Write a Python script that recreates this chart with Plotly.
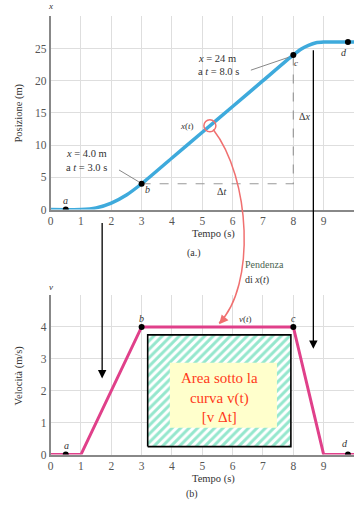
import plotly.graph_objects as go

# ---------------- data ----------------
t_pos = [0, 1, 1.5, 2, 2.5, 3, 4, 5, 6, 7, 8, 8.25, 8.5, 8.75, 9, 10]
x_pos = [0, 0, 0.25, 1, 2.25, 4, 8, 12, 16, 20, 24, 24.9, 25.5, 25.9, 26, 26]

t_vel = [0, 1, 3, 8, 9, 10]
v_vel = [0, 0, 4, 4, 0, 0]

pt_labels = ["a", "b", "c", "d"]
pt_t = [0.5, 3, 8, 9.8]
pt_x = [0, 4, 24, 26]
pt_v = [0, 4, 4, 0]

slope_t = [5.25]
slope_x = [13]

x_ticks = list(range(11))
x_ticktext = [str(i) for i in range(10)] + [""]
pos_ticks = [0, 5, 10, 15, 20, 25, 30]
pos_ticktext = ["0", "5", "10", "15", "20", "25", ""]
vel_ticks = [0, 1, 2, 3, 4, 5]
vel_ticktext = ["0", "1", "2", "3", "4", ""]

area_t = [3.2, 7.92]
area_v = [0.25, 3.75]
box_t = [3.93, 7.46]
box_v = [0.84, 2.88]

W, H = 354, 510
SERIF = "Liberation Serif"
GRID = "#dedede"
AX = "#888888"


def px(x):
    return x / W


def py(y):
    return 1 - y / H


fig = go.Figure()

# position curve
fig.add_trace(go.Scatter(x=t_pos, y=x_pos, mode="lines",
                         line=dict(color="#3eaadc", width=3.5, shape="spline", smoothing=0.7),
                         xaxis="x", yaxis="y", hoverinfo="skip"))
# dashed helper lines
fig.add_trace(go.Scatter(x=[pt_t[1], pt_t[2], pt_t[2]], y=[pt_x[1], pt_x[1], pt_x[2]],
                         mode="lines", line=dict(color="#999999", width=1.2, dash="dash"),
                         xaxis="x", yaxis="y", hoverinfo="skip"))
fig.add_trace(go.Scatter(x=pt_t, y=pt_x, mode="markers",
                         marker=dict(color="black", size=6), xaxis="x", yaxis="y"))
fig.add_trace(go.Scatter(x=slope_t, y=slope_x, mode="markers",
                         marker=dict(symbol="circle-open", color="#f07070", size=12,
                                     line=dict(width=1.5, color="#f07070")),
                         xaxis="x", yaxis="y"))

# hatched area in velocity plot
fig.add_trace(go.Scatter(x=[area_t[0], area_t[1], area_t[1], area_t[0], area_t[0]],
                         y=[area_v[0], area_v[0], area_v[1], area_v[1], area_v[0]],
                         mode="lines", fill="toself", fillcolor="white",
                         fillpattern=dict(shape="/", fgcolor="#2ccf9c", bgcolor="white",
                                          size=6, solidity=0.5),
                         line=dict(color="black", width=1.6),
                         xaxis="x2", yaxis="y2", hoverinfo="skip"))
# velocity curve
fig.add_trace(go.Scatter(x=t_vel, y=v_vel, mode="lines",
                         line=dict(color="#e0408a", width=3),
                         xaxis="x2", yaxis="y2", hoverinfo="skip"))
fig.add_trace(go.Scatter(x=pt_t, y=pt_v, mode="markers",
                         marker=dict(color="black", size=6), xaxis="x2", yaxis="y2"))

axis_common = dict(showgrid=True, gridcolor=GRID, gridwidth=1, zeroline=False,
                   showline=True, linecolor=AX, linewidth=1.5, ticks="",
                   tickfont=dict(family=SERIF, size=11.5, color="#555"))

fig.update_layout(
    width=W, height=H, showlegend=False,
    margin=dict(l=0, r=0, t=0, b=0),
    paper_bgcolor="white", plot_bgcolor="white",
    xaxis=dict(domain=[px(48), 1], range=[0, 10], anchor="y",
               tickmode="array", tickvals=x_ticks, ticktext=x_ticktext, **axis_common),
    yaxis=dict(domain=[py(212), py(16.5)], range=[0, 30], anchor="x",
               tickmode="array", tickvals=pos_ticks, ticktext=pos_ticktext, **axis_common),
    xaxis2=dict(domain=[px(48), 1], range=[0, 10], anchor="y2",
                tickmode="array", tickvals=x_ticks, ticktext=x_ticktext, **axis_common),
    yaxis2=dict(domain=[py(460), py(298.5)], range=[0, 5], anchor="x2",
                tickmode="array", tickvals=vel_ticks, ticktext=vel_ticktext, **axis_common),
)

shapes = []
# yellow box
shapes.append(dict(type="rect", xref="x2", yref="y2", x0=box_t[0], x1=box_t[1],
                   y0=box_v[0], y1=box_v[1], fillcolor="#ffffcc", line=dict(width=0),
                   layer="above"))
# leader lines
shapes.append(dict(type="line", xref="paper", yref="paper", x0=px(117), y0=py(172),
                   x1=px(137), y1=py(184), line=dict(color="#888", width=1)))
shapes.append(dict(type="line", xref="paper", yref="paper", x0=px(250), y0=py(71),
                   x1=px(288), y1=py(58), line=dict(color="#888", width=1)))
# red curved arrow
p0, c1, c2, p3 = (212, 131), (250, 180), (255, 290), (218, 327)
path = "M {} {} C {} {}, {} {}, {} {}".format(px(p0[0]), py(p0[1]), px(c1[0]), py(c1[1]),
                                             px(c2[0]), py(c2[1]), px(p3[0]), py(p3[1]))
shapes.append(dict(type="path", xref="paper", yref="paper", path=path,
                   line=dict(color="#f07070", width=1.5)))
fig.update_layout(shapes=shapes)

ann = []


def txt(x, y, s, size=10, color="#333", xanchor="center", family=SERIF, **kw):
    ann.append(dict(x=px(x), y=py(y), xref="paper", yref="paper", text=s, showarrow=False,
                    xanchor=xanchor, yanchor="middle",
                    font=dict(family=family, size=size, color=color), **kw))


# axis symbols
txt(48, 6, "<i>x</i>", 9)
txt(48, 290, "<i>v</i>", 9)
# axis titles
txt(16, 114, "Posizione (m)", 10.5, textangle=-90)
txt(16, 380, "Velocità (m/s)", 10.5, textangle=-90)
txt(212, 237, "Tempo (s)", 10.5)
txt(193, 256, "(a.)", 10)
txt(212, 485, "Tempo (s)", 10.5)
txt(191, 500, "(b)", 10)
# point labels top
txt(63, 203, "<i>a</i>", 10)
txt(146, 192, "<i>b</i>", 10)
txt(295, 64, "<i>c</i>", 9)
txt(344, 53, "<i>d</i>", 10)
# point labels bottom
txt(64, 451, "<i>a</i>", 10)
txt(140, 322, "<i>b</i>", 10)
txt(293, 322, "<i>c</i>", 10)
txt(345, 449, "<i>d</i>", 10)
txt(245, 323, "<i>v</i>(<i>t</i>)", 9)
# annotations top
txt(62, 155, "<i>x</i> = 4.0 m", 10.5, xanchor="left")
txt(62, 170, "a <i>t</i> = 3.0 s", 10.5, xanchor="left")
txt(195, 59, "<i>x</i> = 24 m", 10.5, xanchor="left")
txt(195, 72, "a <i>t</i> = 8.0 s", 10.5, xanchor="left")
txt(186, 128, "<i>x</i>(<i>t</i>)", 9)
txt(220, 194, "Δ<i>t</i>", 10)
txt(304, 118, "Δ<i>x</i>", 10)
txt(242, 268, "Pendenza", 10, color="#4a6450", xanchor="left")
txt(242, 283, "di <i>x</i>(<i>t</i>)", 10, xanchor="left")
# area text
txt(218, 402, "Area sotto la<br>curva v(t)<br>[v Δt]", 15, color="#ff3a1a")

# arrows
ann.append(dict(x=px(100), y=py(383), xref="paper", yref="paper", ax=0, ay=-157,
                showarrow=True, arrowhead=2, arrowsize=1.3, arrowwidth=1.3,
                arrowcolor="black", text=""))
ann.append(dict(x=px(313), y=py(353), xref="paper", yref="paper", ax=0, ay=-300,
                showarrow=True, arrowhead=2, arrowsize=1.3, arrowwidth=1.3,
                arrowcolor="black", text=""))
ann.append(dict(x=px(218), y=py(328), xref="paper", yref="paper", ax=7, ay=-8,
                showarrow=True, arrowhead=2, arrowsize=1.2, arrowwidth=1.5,
                arrowcolor="#f07070", text=""))

fig.update_layout(annotations=ann)

fig.write_html("out.html", config={"displayModeBar": False},
               post_script="document.body.style.margin='0px';document.body.style.overflow='hidden';")
